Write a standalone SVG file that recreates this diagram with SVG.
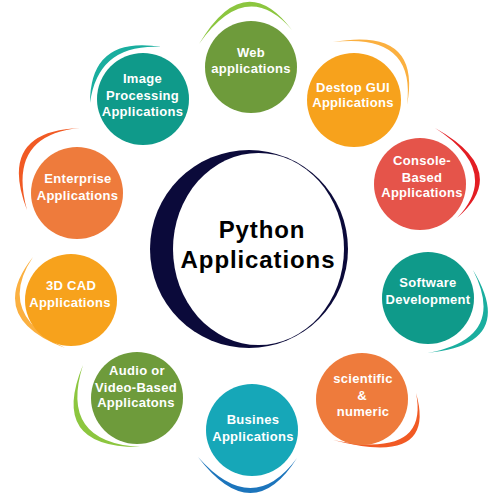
<svg xmlns="http://www.w3.org/2000/svg" width="500" height="499" viewBox="0 0 500 499">
<style>
.t{font-family:"Liberation Sans",Arial,sans-serif;font-weight:bold;font-size:13px;fill:#fff;text-anchor:middle;letter-spacing:0.3px}
.ct{font-family:"Liberation Sans",Arial,sans-serif;font-weight:bold;font-size:24px;fill:#000;text-anchor:middle;letter-spacing:0.9px}
.green{fill:#6e9b3b}.lgreen{fill:#8cc63f}
.orange{fill:#f7a21c}.lorange{fill:#fbb040}
.red{fill:#e5544a}.lred{fill:#e31e24}
.teal{fill:#0f9a8a}.lteal{fill:#1aae9f}
.coral{fill:#ee7b3c}.lcoral{fill:#f15a24}
.cyan{fill:#16a7b8}.blue{fill:#1c75bc}
</style>
<rect width="500" height="499" fill="#fff"/>
<g id="arcs">
<path class="lgreen" d="M199,44 Q244.5,-33 292,30 Q246.5,-23 199,44Z"/>
<path class="lorange" d="M333,42 Q422,26.5 407,105 Q416,32.5 333,42Z"/>
<path class="lred" d="M435,128 Q512,171 457,218 Q502,171 435,128Z"/>
<path class="lteal" d="M473,270 Q518,344.5 427,353 Q508,338.5 473,270Z"/>
<path class="lcoral" d="M416,393 Q437.5,467.5 333,440 Q429.5,459.5 416,393Z"/>
<path class="blue" d="M198,457 Q252.5,528.5 297,458 Q252.5,518.5 198,457Z"/>
<path class="lgreen" d="M83,365 Q48.5,448 140,447 Q58.5,442 83,365Z"/>
<path class="lorange" d="M33,257 Q-15,317.5 65,348 Q-5,313.5 33,257Z"/>
<path class="lcoral" d="M80,128 Q-3.5,131 27,210 Q6.5,135 80,128Z"/>
<path class="lteal" d="M90,103 Q90,35 162,47 Q98,43 90,103Z"/>
</g>
<g id="center">
<circle cx="249" cy="249" r="99" fill="#0b0a3a"/>
<ellipse cx="258.5" cy="249" rx="85.5" ry="96" fill="#fff"/>
<text class="ct" x="262" y="238">Python</text>
<text class="ct" x="258" y="268">Applications</text>
</g>
<g id="web"><circle class="green" cx="251" cy="67" r="46"/><text class="t" x="251" y="57">Web</text><text class="t" x="251" y="73">applications</text></g>
<g id="destop"><circle class="orange" cx="354" cy="100" r="47"/><text class="t" x="353" y="92">Destop GUI</text><text class="t" x="353" y="107">Applications</text></g>
<g id="console"><circle class="red" cx="420" cy="184" r="46"/><text class="t" x="422" y="165">Console-</text><text class="t" x="422" y="181.5">Based</text><text class="t" x="422" y="197">Applications</text></g>
<g id="software"><circle class="teal" cx="428" cy="298" r="46"/><text class="t" x="428" y="287">Software</text><text class="t" x="428" y="304">Development</text></g>
<g id="scientific"><circle class="coral" cx="362" cy="399" r="46"/><text class="t" x="363" y="383">scientific</text><text class="t" x="362" y="400">&amp;</text><text class="t" x="363" y="416">numeric</text></g>
<g id="busines"><circle class="cyan" cx="252" cy="430" r="46"/><text class="t" x="253" y="424">Busines</text><text class="t" x="253" y="441">Applications</text></g>
<g id="audio"><circle class="green" cx="137" cy="398" r="46"/><text class="t" x="137" y="375">Audio or</text><text class="t" x="136" y="391.5">Video-Based</text><text class="t" x="136" y="407">Applicatons</text></g>
<g id="cad"><circle class="orange" cx="71" cy="300" r="46"/><text class="t" x="71" y="290">3D CAD</text><text class="t" x="70" y="306.5">Applications</text></g>
<g id="enterprise"><circle class="coral" cx="77" cy="193" r="46"/><text class="t" x="78" y="183">Enterprise</text><text class="t" x="77.5" y="200">Applications</text></g>
<g id="image"><circle class="teal" cx="143" cy="99" r="46"/><text class="t" x="142.5" y="83">Image</text><text class="t" x="142.5" y="100">Processing</text><text class="t" x="142.5" y="116">Applications</text></g>
</svg>
